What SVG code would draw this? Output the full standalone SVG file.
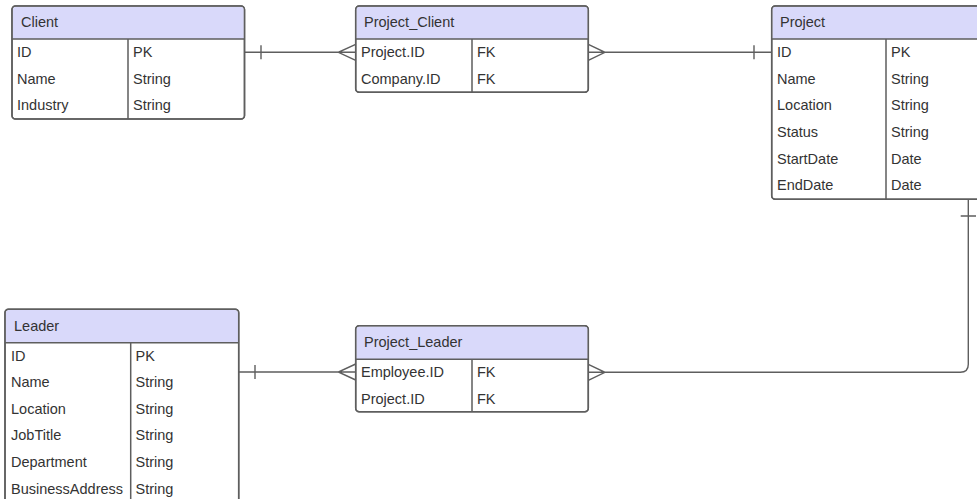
<svg xmlns="http://www.w3.org/2000/svg" width="977" height="499" viewBox="0 0 977 499">
<style>
.box{fill:#ffffff;stroke:#5e5e5e;stroke-width:1.5}
.hdr{fill:#d9d9fa;stroke:none}
.ln{stroke:#5e5e5e;stroke-width:1.5;fill:none}
.con{stroke:#5e5e5e;stroke-width:1.4;fill:none}
text{font-family:"Liberation Sans",Arial,sans-serif;font-size:14.5px;fill:#333333}
</style>
<rect width="977" height="499" fill="#ffffff"/>
<g id="connectors">
<path class="con" d="M244.5,52.3 H355.7 M261,45.3 V59.3 M355.7,44.3 L338.3,52.3 L355.7,60.3"/>
<path class="con" d="M588.3,52.3 H771.7 M754,45.3 V59.3 M588.3,44.3 L605,52.3 L588.3,60.3"/>
<path class="con" d="M968.3,199.3 V364.3 Q968.3,372.3 960.3,372.3 H588.3 M960.7,216 H976 M588.3,364.3 L605,372.3 L588.3,380.3"/>
<path class="con" d="M238.7,372 H355.7 M255,365 V379 M355.7,364 L338.3,372 L355.7,380"/>
</g>
<g id="client">
<rect class="box" x="12" y="6" width="232.5" height="113" rx="3.5"/>
<path class="hdr" d="M12.75,39 V10 Q12.75,6.75 16,6.75 H240.5 Q243.75,6.75 243.75,10 V39 Z"/>
<rect x="12" y="6" width="232.5" height="113" rx="3.5" fill="none" stroke="#5e5e5e" stroke-width="1.5"/>
<path class="ln" d="M12,39 H244.5 M128,39 V119"/>
<text x="21" y="27">Client</text>
<text x="17" y="57">ID</text><text x="133" y="57">PK</text>
<text x="17" y="83.5">Name</text><text x="133" y="83.5">String</text>
<text x="17" y="110">Industry</text><text x="133" y="110">String</text>
</g>
<g id="project_client">
<rect class="box" x="355.7" y="6" width="232.6" height="86.3" rx="3.5"/>
<path class="hdr" d="M356.45,39 V10 Q356.45,6.75 359.7,6.75 H584.3 Q587.55,6.75 587.55,10 V39 Z"/>
<rect x="355.7" y="6" width="232.6" height="86.3" rx="3.5" fill="none" stroke="#5e5e5e" stroke-width="1.5"/>
<path class="ln" d="M355.7,39 H588.3 M472,39 V92.3"/>
<text x="364" y="27">Project_Client</text>
<text x="361" y="57">Project.ID</text><text x="477" y="57">FK</text>
<text x="361" y="83.5">Company.ID</text><text x="477" y="83.5">FK</text>
</g>
<g id="project">
<rect class="box" x="771.7" y="6" width="232.6" height="193.3" rx="3.5"/>
<path class="hdr" d="M772.45,39 V10 Q772.45,6.75 775.7,6.75 H1000.3 Q1003.55,6.75 1003.55,10 V39 Z"/>
<rect x="771.7" y="6" width="232.6" height="193.3" rx="3.5" fill="none" stroke="#5e5e5e" stroke-width="1.5"/>
<path class="ln" d="M771.7,39 H1004.3 M886,39 V199.3"/>
<text x="780" y="27">Project</text>
<text x="777" y="57">ID</text><text x="891" y="57">PK</text>
<text x="777" y="83.5">Name</text><text x="891" y="83.5">String</text>
<text x="777" y="110">Location</text><text x="891" y="110">String</text>
<text x="777" y="137">Status</text><text x="891" y="137">String</text>
<text x="777" y="163.5">StartDate</text><text x="891" y="163.5">Date</text>
<text x="777" y="190">EndDate</text><text x="891" y="190">Date</text>
</g>
<g id="leader">
<rect class="box" x="5" y="309.3" width="233.7" height="193.4" rx="3.5"/>
<path class="hdr" d="M5.75,342.7 V313.3 Q5.75,310.05 9,310.05 H234.7 Q237.95,310.05 237.95,313.3 V342.7 Z"/>
<rect x="5" y="309.3" width="233.7" height="193.4" rx="3.5" fill="none" stroke="#5e5e5e" stroke-width="1.5"/>
<path class="ln" d="M5,342.7 H238.7 M130.7,342.7 V502.7"/>
<text x="14" y="330.5">Leader</text>
<text x="11" y="360.5">ID</text><text x="135.5" y="360.5">PK</text>
<text x="11" y="387">Name</text><text x="135.5" y="387">String</text>
<text x="11" y="413.5">Location</text><text x="135.5" y="413.5">String</text>
<text x="11" y="440">JobTitle</text><text x="135.5" y="440">String</text>
<text x="11" y="467">Department</text><text x="135.5" y="467">String</text>
<text x="11" y="493.5">BusinessAddress</text><text x="135.5" y="493.5">String</text>
</g>
<g id="project_leader">
<rect class="box" x="355.7" y="325.7" width="232.6" height="86" rx="3.5"/>
<path class="hdr" d="M356.45,359.3 V329.7 Q356.45,326.45 359.7,326.45 H584.3 Q587.55,326.45 587.55,329.7 V359.3 Z"/>
<rect x="355.7" y="325.7" width="232.6" height="86" rx="3.5" fill="none" stroke="#5e5e5e" stroke-width="1.5"/>
<path class="ln" d="M355.7,359.3 H588.3 M472,359.3 V411.7"/>
<text x="364" y="347">Project_Leader</text>
<text x="361" y="377">Employee.ID</text><text x="477" y="377">FK</text>
<text x="361" y="403.5">Project.ID</text><text x="477" y="403.5">FK</text>
</g>
</svg>
